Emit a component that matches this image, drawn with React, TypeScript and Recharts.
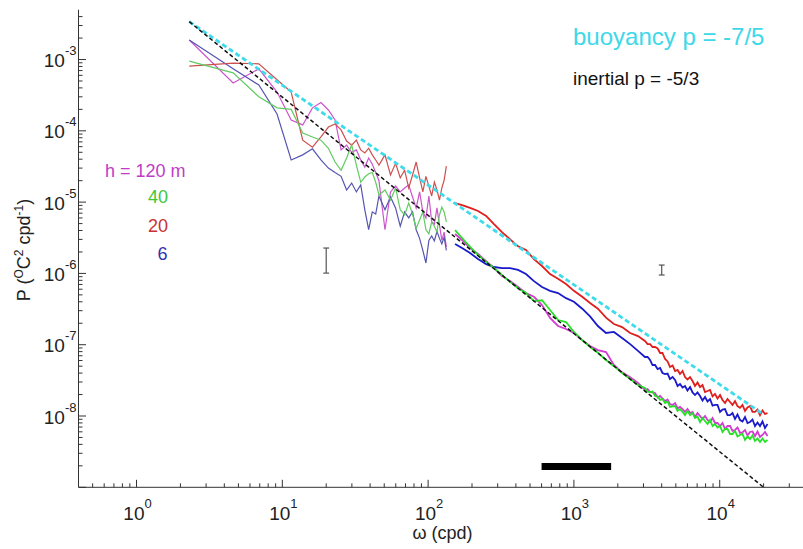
import React from 'react';
import { LineChart, Line, XAxis, YAxis, ReferenceLine } from 'recharts';

const FONT = '"Liberation Sans", Arial, Helvetica, sans-serif';
const AXIS = '#333333';

// ---- frequency grids (cpd) ----
const freqLow = [2.3, 4.6, 6.9, 9.2, 11.5, 13.8, 16.1, 18.4, 20.7, 23, 25.3, 27.6, 29.9, 32.2, 34.5, 36.8, 39.1, 41.4, 43.7, 46,
  50.6, 55.2, 59.8, 64.4, 69, 73.6, 78.2, 82.8, 87.4, 92, 96.6, 101.2, 105.8, 110.4, 115, 119.6, 124.2, 128.8, 133.4];

const freqHigh = [153, 171, 194, 220, 250, 283, 321, 365, 414, 469,
  532, 604, 686, 778, 883, 1000, 1140, 1290, 1460, 1660,
  1880, 2140, 2430, 2750,
  3070, 3200, 3330, 3460, 3600, 3750, 3900, 4050, 4220, 4390,
  4560, 4750, 4940, 5140, 5340, 5560, 5780, 6010, 6260, 6510,
  6770, 7040, 7330, 7620, 7930, 8250, 8580, 8930, 9280, 9660,
  10050, 10450, 10870, 11310, 11770, 12240, 12730, 13240, 13780, 14330,
  14910, 15510, 16130, 16780, 17460, 18160, 18890, 19650, 20440, 21270];

// ---- spectra, low-frequency band ----
const pMagentaLow = [1.88e-3, 4.7e-4, 7.4e-4, 3.5e-4, 1.42e-4, 1.21e-4, 2.1e-4, 2.5e-4, 1.96e-4, 1.42e-4,
  5.4e-5, 6.3e-5, 5.0e-5, 5.4e-5, 3.9e-5, 3.1e-5, 4.15e-5, 3.4e-5, 2.6e-5, 2.0e-5,
  4.1e-6, 1.39e-5, 1.68e-5, 1.39e-5, 1.58e-5, 1.74e-5, 1.18e-5, 8.3e-6, 1.39e-5, 7.3e-6,
  6.0e-6, 1.22e-5, 5.3e-6, 4.9e-6, 8.3e-6, 4.8e-6, 2.9e-6, 3.8e-6, 2.35e-6];
const pGreenLow = [9.5e-4, 6.5e-4, 3.0e-4, 2.1e-4, 2.0e-4, 9.3e-5, 8.2e-5, 7.4e-5, 5.7e-5, 3.65e-5,
  2.8e-5, 4.15e-5, 6.3e-5, 3.3e-5, 1.9e-5, 2.25e-5, 2.5e-5, 2.6e-5, 1.9e-5, 1.26e-5,
  1.48e-5, 1.07e-5, 1.58e-5, 7.8e-6, 6.6e-6, 9.7e-6, 6.8e-6, 4.3e-6, 5.6e-6, 7.3e-6,
  4.1e-6, 3.6e-6, 5.3e-6, 4.6e-6, 3.8e-6, 6.6e-6, 8.5e-6, 7.3e-6, 5.3e-6];
const pRedLow = [8.1e-4, 8.9e-4, 8.7e-4, 5.2e-4, 3.5e-4, 7.4e-5, 5.9e-5, 8.2e-5, 1.13e-4, 1.25e-4,
  1.03e-4, 7.2e-5, 6.3e-5, 7.4e-5, 5.4e-5, 4.9e-5, 5.7e-5, 4.6e-5, 3.9e-5, 3.3e-5,
  4.6e-5, 2.4e-5, 3.5e-5, 2.2e-5, 2.8e-5, 1.58e-5, 2.4e-5, 3.65e-5, 2.2e-5, 1.39e-5,
  2.3e-5, 1.68e-5, 1.22e-5, 1.91e-5, 1.48e-5, 1.07e-5, 1.58e-5, 2.04e-5, 3.2e-5];
const pBlueLow = [1.88e-3, 7.4e-4, 4.4e-4, 1.72e-4, 3.9e-5, 4.6e-5, 5.6e-5, 3.9e-5, 3.0e-5, 2.6e-5,
  2.3e-5, 1.48e-5, 1.85e-5, 1.39e-5, 1.74e-5, 7.8e-6, 4.1e-6, 7.3e-6, 6.8e-6, 1.22e-5,
  7.8e-6, 1.18e-5, 8.3e-6, 4.6e-6, 7.3e-6, 6.0e-6, 7.3e-6, 4.1e-6, 3.1e-6, 2.1e-6,
  1.4e-6, 2.9e-6, 3.35e-6, 2.85e-6, 3.9e-6, 3.1e-6, 2.6e-6, 3.2e-6, 2.1e-6];

// ---- spectra, high-frequency band ----
const pMagentaHigh = [3.57e-6, 2.94e-6, 2.27e-6, 1.87e-6, 1.49e-6, 1.19e-6, 9.2e-7, 7.8e-7, 6.45e-7, 5.3e-7,
  4.7e-7, 3.6e-7, 2.37e-7, 1.83e-7, 1.66e-7, 1.46e-7, 1.16e-7, 9.6e-8, 8.4e-8, 7.9e-8,
  5.2e-8, 4.1e-8, 3.5e-8, 2.9e-8,
  2.32e-8, 2.39e-8, 2.17e-8, 2.14e-8, 2.10e-8, 1.82e-8, 1.91e-8, 1.76e-8, 1.62e-8, 1.70e-8,
  1.47e-8, 1.43e-8, 1.52e-8, 1.28e-8, 1.34e-8, 1.25e-8, 1.14e-8, 1.25e-8, 1.10e-8, 1.14e-8,
  9.68e-9, 1.10e-8, 1.00e-8, 9.08e-9, 1.00e-8, 8.79e-9, 8.24e-9, 9.38e-9, 7.98e-9, 7.98e-9,
  7.24e-9, 7.98e-9, 6.57e-9, 7.24e-9, 7.24e-9, 6.17e-9, 6.37e-9, 6.90e-9, 5.78e-9, 5.87e-9,
  6.37e-9, 5.33e-9, 5.97e-9, 6.07e-9, 5.24e-9, 6.07e-9, 5.08e-9, 5.42e-9, 5.97e-9, 5.24e-9];
const pBlueHigh = [2.58e-6, 2.27e-6, 1.93e-6, 1.59e-6, 1.35e-6, 1.23e-6, 1.19e-6, 1.19e-6, 1.12e-6, 9.8e-7,
  7.8e-7, 6.45e-7, 5.7e-7, 5.3e-7, 4.5e-7, 4.0e-7, 3.2e-7, 2.5e-7, 1.83e-7, 1.46e-7,
  1.51e-7, 1.24e-7, 1.02e-7, 8.2e-8,
  6.72e-8, 6.72e-8, 6.10e-8, 5.19e-8, 5.19e-8, 4.56e-8, 4.71e-8, 4.01e-8, 3.88e-8, 3.94e-8,
  3.30e-8, 3.52e-8, 3.20e-8, 2.64e-8, 2.81e-8, 2.51e-8, 2.64e-8, 2.28e-8, 2.55e-8, 2.14e-8,
  1.97e-8, 2.14e-8, 1.91e-8, 1.65e-8, 1.85e-8, 1.60e-8, 1.73e-8, 1.40e-8, 1.43e-8, 1.43e-8,
  1.14e-8, 1.23e-8, 1.25e-8, 1.03e-8, 1.03e-8, 1.10e-8, 9.08e-9, 1.05e-8, 8.79e-9, 8.38e-9,
  9.68e-9, 7.98e-9, 8.24e-9, 8.93e-9, 7.24e-9, 8.11e-9, 7.24e-9, 8.38e-9, 6.79e-9, 7.73e-9];
const pRedHigh = [9.7e-6, 9.1e-6, 8.3e-6, 7.5e-6, 6.4e-6, 4.9e-6, 3.8e-6, 3.0e-6, 2.4e-6, 2.13e-6,
  1.59e-6, 1.27e-6, 9.8e-7, 8.4e-7, 7.1e-7, 5.7e-7, 4.7e-7, 3.85e-7, 3.2e-7, 2.4e-7,
  1.95e-7, 1.77e-7, 1.46e-7, 1.32e-7,
  1.13e-7, 1.02e-7, 1.02e-7, 9.29e-8, 9.29e-8, 8.85e-8, 7.65e-8, 7.65e-8, 6.30e-8, 5.82e-8,
  4.87e-8, 5.11e-8, 4.28e-8, 4.42e-8, 3.88e-8, 4.28e-8, 3.52e-8, 3.25e-8, 3.52e-8, 3.10e-8,
  2.64e-8, 2.95e-8, 2.55e-8, 2.72e-8, 2.17e-8, 2.24e-8, 2.32e-8, 1.88e-8, 2.04e-8, 1.76e-8,
  1.97e-8, 1.68e-8, 1.52e-8, 1.73e-8, 1.57e-8, 1.43e-8, 1.62e-8, 1.38e-8, 1.30e-8, 1.43e-8,
  1.18e-8, 1.32e-8, 1.38e-8, 1.14e-8, 1.14e-8, 1.23e-8, 1.03e-8, 1.20e-8, 1.07e-8, 1.10e-8];
const pGreenHigh = [4.06e-6, 3.14e-6, 2.35e-6, 1.81e-6, 1.45e-6, 1.19e-6, 9.5e-7, 7.6e-7, 6.2e-7, 5.3e-7,
  4.1e-7, 4.2e-7, 3.07e-7, 2.22e-7, 2.08e-7, 1.51e-7, 1.16e-7, 9.3e-8, 7.7e-8, 6.1e-8,
  5.0e-8, 4.0e-8, 3.3e-8, 2.72e-8,
  2.47e-8, 2.20e-8, 2.17e-8, 2.20e-8, 1.91e-8, 1.88e-8, 1.68e-8, 1.73e-8, 1.52e-8, 1.60e-8,
  1.34e-8, 1.36e-8, 1.38e-8, 1.18e-8, 1.25e-8, 1.14e-8, 1.03e-8, 1.18e-8, 1.03e-8, 1.10e-8,
  9.38e-9, 9.84e-9, 8.24e-9, 9.38e-9, 8.51e-9, 7.73e-9, 8.79e-9, 7.24e-9, 7.73e-9, 6.90e-9,
  7.24e-9, 5.97e-9, 6.57e-9, 6.57e-9, 5.59e-9, 5.59e-9, 6.17e-9, 5.16e-9, 5.42e-9, 5.59e-9,
  4.61e-9, 5.16e-9, 4.76e-9, 5.33e-9, 4.46e-9, 4.84e-9, 4.32e-9, 4.84e-9, 4.32e-9, 4.61e-9];

// ---- reference slopes (end points) ----
const inertialW = [2.3, 20000];
const inertialP = [3.4e-3, 1.0e-9];
const buoyancyW = [2.3, 20000];
const buoyancyP = [3.4e-3, 1.05e-8];

// ---- error bars and bandwidth bar ----
const errW = [20, 4000];
const errLo = [1.01e-6, 9.5e-7];
const errHi = [2.27e-6, 1.31e-6];
const barFrom = 600;
const barTo = 1800;
const barLevel = 1.95e-9;

// ---- ticks ----
const xMajorTicks = [1, 10, 100, 1000, 10000];
const xMinorTicks = [0.5, 0.6, 0.7, 0.8, 0.9, 2, 3, 4, 5, 6, 7, 8, 9, 20, 30, 40, 50, 60, 70, 80, 90,
  200, 300, 400, 500, 600, 700, 800, 900, 2000, 3000, 4000, 5000, 6000, 7000, 8000, 9000, 20000, 30000];
const yMajorTicks = [1e-9, 1e-8, 1e-7, 1e-6, 1e-5, 1e-4, 1e-3];
const yMinorTicks = [2e-9, 3e-9, 4e-9, 5e-9, 6e-9, 7e-9, 8e-9, 9e-9,
  2e-8, 3e-8, 4e-8, 5e-8, 6e-8, 7e-8, 8e-8, 9e-8,
  2e-7, 3e-7, 4e-7, 5e-7, 6e-7, 7e-7, 8e-7, 9e-7,
  2e-6, 3e-6, 4e-6, 5e-6, 6e-6, 7e-6, 8e-6, 9e-6,
  2e-5, 3e-5, 4e-5, 5e-5, 6e-5, 7e-5, 8e-5, 9e-5,
  2e-4, 3e-4, 4e-4, 5e-4, 6e-4, 7e-4, 8e-4, 9e-4,
  2e-3, 3e-3, 4e-3];
const yLabelMajors = [1e-8, 1e-7, 1e-6, 1e-5, 1e-4, 1e-3];

const xTicks = [...xMinorTicks, ...xMajorTicks].sort((a, b) => a - b);
const yTicks = [...yMinorTicks, ...yMajorTicks].sort((a, b) => a - b);

const toPts = (w: number[], p: number[]) => w.map((v, i) => ({ w: v, p: p[i] }));
const near = (v: number, list: number[]) => list.some((m) => Math.abs(Math.log10(v) - Math.log10(m)) < 1e-6);
const expOf = (v: number) => Math.round(Math.log10(v));

const MAJ = 7.5;
const MIN = 4;

function BottomTick(props: any) {
  const { x, y, payload } = props;
  const v = payload.value;
  const major = near(v, xMajorTicks);
  return (
    <g>
      <line x1={x} y1={y} x2={x} y2={y - (major ? MAJ : MIN)} stroke={AXIS} strokeWidth={1} />
      {major && (
        <text x={x + 1} y={y + 33} textAnchor="middle" fontSize={19} fontFamily={FONT} fill="#222">
          10<tspan dy={-12} fontSize={13}>{expOf(v)}</tspan>
        </text>
      )}
    </g>
  );
}
function TopTick(props: any) {
  const { x, y, payload } = props;
  const major = near(payload.value, xMajorTicks);
  return <line x1={x} y1={y} x2={x} y2={y + (major ? MAJ : MIN)} stroke={AXIS} strokeWidth={1} />;
}
function LeftTick(props: any) {
  const { x, y, payload } = props;
  const v = payload.value;
  const major = near(v, yMajorTicks);
  const lab = near(v, yLabelMajors);
  return (
    <g>
      <line x1={x} y1={y} x2={x + (major ? MAJ : MIN)} y2={y} stroke={AXIS} strokeWidth={1} />
      {lab && (
        <text x={x - 2} y={y + 7.5} textAnchor="end" fontSize={19} fontFamily={FONT} fill="#222">
          10<tspan dy={-12} fontSize={13}>{String(expOf(v))}</tspan>
        </text>
      )}
    </g>
  );
}
function RightTick(props: any) {
  const { x, y, payload } = props;
  const major = near(payload.value, yMajorTicks);
  return <line x1={x} y1={y} x2={x - (major ? MAJ : MIN)} y2={y} stroke={AXIS} strokeWidth={1} />;
}

const lowW = 1.2;
const highW = 1.8;

export default function App() {
  const series = [
    { data: toPts(freqLow, pMagentaLow), color: '#CC55CC', w: lowW },
    { data: toPts(freqLow, pBlueLow), color: '#5555B0', w: lowW },
    { data: toPts(freqLow, pRedLow), color: '#CC5050', w: lowW },
    { data: toPts(freqLow, pGreenLow), color: '#60CC60', w: lowW },
    { data: toPts(freqHigh, pMagentaHigh), color: '#D23CD2', w: highW },
    { data: toPts(freqHigh, pBlueHigh), color: '#1A1ACC', w: highW },
    { data: toPts(freqHigh, pRedHigh), color: '#E01E1E', w: highW },
    { data: toPts(freqHigh, pGreenHigh), color: '#28E028', w: highW },
  ];
  return (
    <div style={{ position: 'absolute', left: 0, top: 0, width: 803, height: 549, overflow: 'hidden', background: '#fff' }}>
      <LineChart width={830} height={549} margin={{ top: 9.7, right: 22.5, left: 0, bottom: 0 }}>
        <XAxis dataKey="w" type="number" scale="log" domain={[0.4, 40000]} allowDataOverflow ticks={xTicks}
          interval={0} tickSize={0} tickMargin={0} height={61.7} axisLine={{ stroke: AXIS }} tickLine={false}
          tick={(p: any) => <BottomTick {...p} />} />
        <XAxis xAxisId="top" orientation="top" dataKey="w" type="number" scale="log" domain={[0.4, 40000]} allowDataOverflow
          ticks={xTicks} interval={0} tickSize={0} tickMargin={0} height={0} axisLine={{ stroke: AXIS }} tickLine={false}
          tick={(p: any) => <TopTick {...p} />} />
        <YAxis type="number" scale="log" domain={[1e-9, 5e-3]} allowDataOverflow ticks={yTicks} interval={0}
          tickSize={0} tickMargin={0} width={78.5} axisLine={{ stroke: AXIS }} tickLine={false}
          tick={(p: any) => <LeftTick {...p} />} />
        <YAxis yAxisId="right" orientation="right" type="number" scale="log" domain={[1e-9, 5e-3]} allowDataOverflow
          ticks={yTicks} interval={0} tickSize={0} tickMargin={0} width={0} axisLine={{ stroke: AXIS }} tickLine={false}
          tick={(p: any) => <RightTick {...p} />} />
        {series.map((s, i) => (
          <Line key={i} data={s.data} dataKey="p" type="linear" stroke={s.color} strokeWidth={s.w}
            dot={false} activeDot={false} isAnimationActive={false} />
        ))}
        <Line data={toPts(buoyancyW, buoyancyP)} dataKey="p" type="linear" stroke="#3EDCEA" strokeWidth={2.8}
          strokeDasharray="5 3" dot={false} activeDot={false} isAnimationActive={false} />
        <Line data={toPts(inertialW, inertialP)} dataKey="p" type="linear" stroke="#111" strokeWidth={1.5}
          strokeDasharray="4 2.5" dot={false} activeDot={false} isAnimationActive={false} />
        {errW.map((w, i) => (
          <ReferenceLine key={'e' + i} segment={[{ x: w, y: errLo[i] }, { x: w, y: errHi[i] }]} stroke="#555" strokeWidth={1.2} ifOverflow="visible" />
        ))}
        {errW.map((w, i) => (
          <ReferenceLine key={'lo' + i} segment={[{ x: w * 0.955, y: errLo[i] }, { x: w * 1.047, y: errLo[i] }]} stroke="#555" strokeWidth={1.2} ifOverflow="visible" />
        ))}
        {errW.map((w, i) => (
          <ReferenceLine key={'hi' + i} segment={[{ x: w * 0.955, y: errHi[i] }, { x: w * 1.047, y: errHi[i] }]} stroke="#555" strokeWidth={1.2} ifOverflow="visible" />
        ))}
        <ReferenceLine segment={[{ x: barFrom, y: barLevel }, { x: barTo, y: barLevel }]} stroke="#000" strokeWidth={7} ifOverflow="visible" />
      </LineChart>
      <svg width={803} height={549} style={{ position: 'absolute', left: 0, top: 0, pointerEvents: 'none' }} fontFamily={FONT}>
        <text x={30} y={250} transform="rotate(-90 30 250)" textAnchor="middle" fontSize={18} fill="#222">
          P (<tspan dy={-7} fontSize={12}>O</tspan><tspan dy={7}>C</tspan><tspan dy={-7} fontSize={12}>2</tspan>
          <tspan dy={7}>{' cpd'}</tspan><tspan dy={-7} fontSize={12}>-1</tspan><tspan dy={7}>)</tspan>
        </text>
        <text x={442.5} y={538.5} textAnchor="middle" fontSize={18} fill="#222">ω (cpd)</text>
        <text x={573} y={45} fontSize={24} fill="#3ED8E8">buoyancy p = -7/5</text>
        <text x={573} y={85} fontSize={19} fill="#111">inertial p = -5/3</text>
        <text x={105} y={177} fontSize={18} fill="#C03CC8">h = 120 m</text>
        <text x={168} y={203} fontSize={18} fill="#3CC83C" textAnchor="end">40</text>
        <text x={168} y={232} fontSize={18} fill="#C83232" textAnchor="end">20</text>
        <text x={167.5} y={260} fontSize={18} fill="#3232B4" textAnchor="end">6</text>
      </svg>
    </div>
  );
}
